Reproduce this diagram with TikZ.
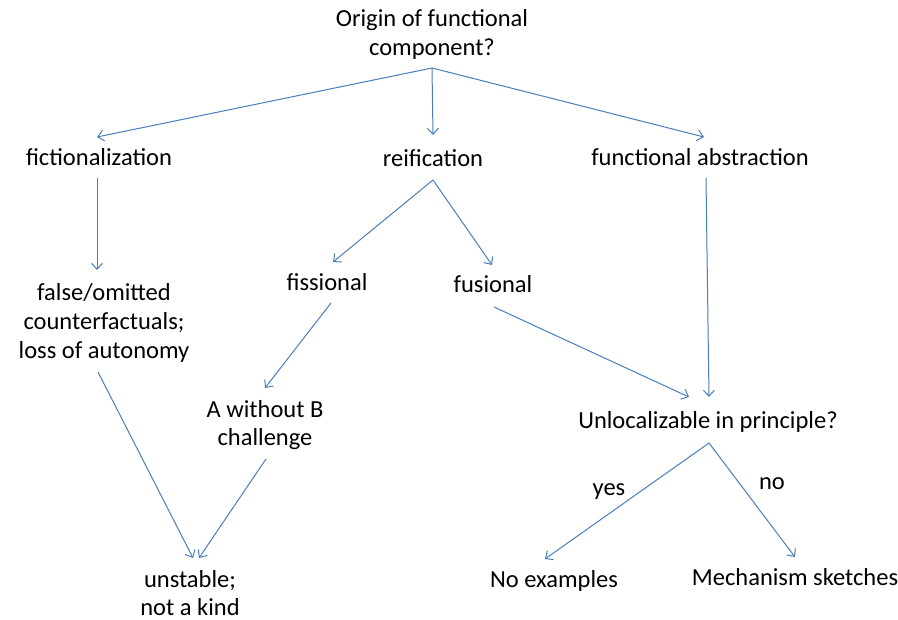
\documentclass[tikz,border=0pt]{standalone}
\usepackage{fontspec}
\setmainfont{Carlito}
\usetikzlibrary{arrows.meta,calc}
\definecolor{linkblue}{RGB}{74,126,187}
\begin{document}
\begin{tikzpicture}[x=1pt,y=-1pt,
  lbl/.style={inner sep=0pt,font=\fontsize{24.5}{29}\selectfont,text height=17pt,text depth=5pt},
  mlbl/.style={inner sep=0pt,align=center,font=\fontsize{24.5}{29}\selectfont},
  tlbl/.style={inner sep=0pt,align=center,font=\fontsize{24.5}{28}\selectfont},
  arr/.style={draw=linkblue,line width=1pt,-{Straight Barb[length=6pt,width=11pt,line width=1pt]}}]
\useasboundingbox[fill=white] (0,0) rectangle (898,620);
% nodes
\node[mlbl] (orig) at (432,34) {Origin of functional\\component?};
\node[lbl] (fict) at (99,160) {fictionalization};
\node[lbl] (reif) at (433,161) {reification};
\node[lbl] (fabs) at (700,160) {functional abstraction};
\node[lbl] (fiss) at (327,285) {fissional};
\node[lbl] (fus) at (493,287) {fusional};
\node[mlbl] (false) at (104,323) {false/omitted\\counterfactuals;\\loss of autonomy};
\node[tlbl] (awb) at (265,425) {A without B\\challenge};
\node[lbl] (unloc) at (708,423) {Unlocalizable in principle?};
\node[lbl] (yes) at (609,490) {yes};
\node[lbl] (no) at (772,484) {no};
\node[lbl] (noex) at (554,581) {No examples};
\node[lbl] (mech) at (795,579) {Mechanism sketches};
\node[tlbl] (unst) at (190,593) {unstable;\\not a kind};
% connectors
\draw[arr] ($(orig)+(0,34)$) -- ($(fict)+(-2,-23)$);
\draw[arr] ($(orig)+(0,34)$) -- ($(reif)+(0,-26)$);
\draw[arr] ($(orig)+(0,34)$) -- ($(fabs)+(4,-23)$);
\draw[arr] ($(fict)+(-2,18)$) -- ($(false)+(-7,-53)$);
\draw[arr] ($(reif)+(0,19)$) -- ($(fiss)+(6,-23)$);
\draw[arr] ($(reif)+(0,19)$) -- ($(fus)+(-1,-22)$);
\draw[arr] ($(fiss)+(4,18)$) -- ($(awb)+(0,-37)$);
\draw[arr] ($(fus)+(1,20)$) -- ($(unloc)+(-19,-26)$);
\draw[arr] ($(fabs)+(6,18)$) -- ($(unloc)+(1,-26)$);
\draw[arr] ($(false)+(-6,49)$) -- ($(unst)+(3,-35)$);
\draw[arr] ($(awb)+(1,34)$) -- ($(unst)+(9,-35)$);
\draw[arr] ($(unloc)+(1,20)$) -- ($(noex)+(-9,-22)$);
\draw[arr] ($(unloc)+(1,20)$) -- ($(mech)+(0,-22)$);
\end{tikzpicture}
\end{document}
